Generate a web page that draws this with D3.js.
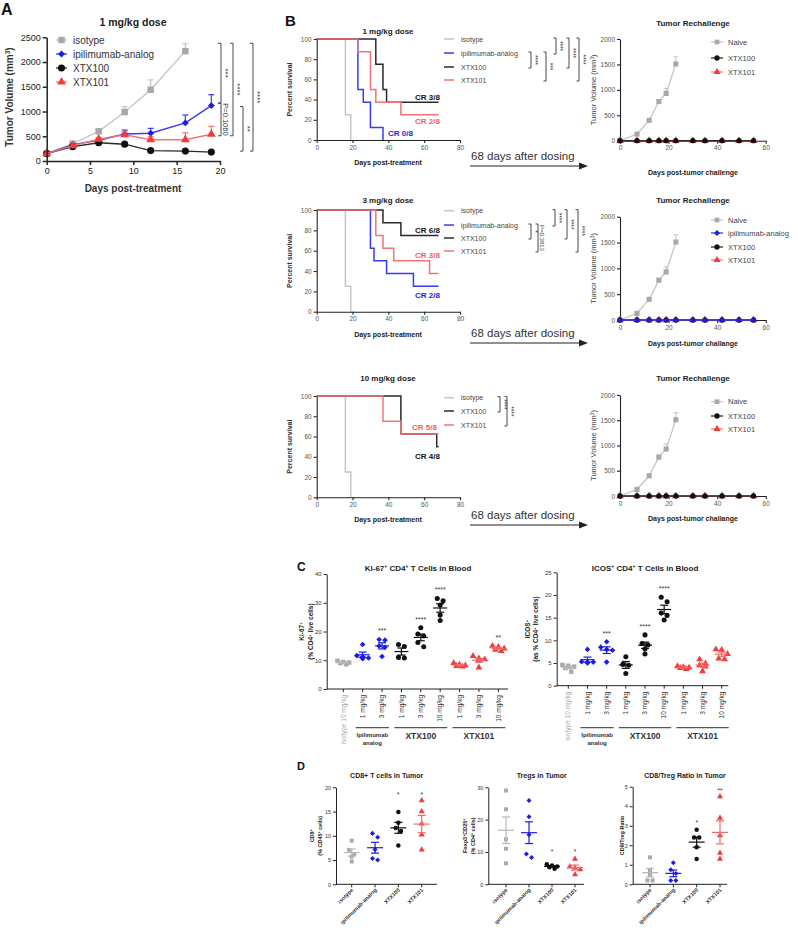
<!DOCTYPE html>
<html><head><meta charset="utf-8">
<script src="https://cdn.jsdelivr.net/npm/d3@7"></script>
<style>body{margin:0;background:#fff} svg{display:block}</style>
</head><body><script>
// ================= DATA =================
// Panel A : tumor volume, 1 mg/kg
const daysA=[0,3,6,9,12,16,19];
const xTicksA=[0,5,10,15,20];
const yTicksA=[0,500,1000,1500,2000,2500];
const isoA=[150,350,600,990,1440,2220,null];
const isoAerr=[15,25,35,110,200,150,null];
const ipiA=[150,330,420,545,560,770,1120];
const ipiAerr=[15,25,35,80,100,160,220];
const x100A=[150,290,370,340,210,200,180];
const x100Aerr=[15,20,25,25,20,20,25];
const x101A=[150,310,440,530,430,430,540];
const x101Aerr=[15,25,35,60,60,140,160];

// Panel B : survival (change points: day, percent)
const survXTicks=[0,20,40,60,80];
const survYTicks=[0,20,40,60,80,100];
const s1IsoT=[0,16,19], s1IsoP=[100,25,0];
const s1IpiT=[0,23,26,30,37], s1IpiP=[100,50,37.5,12.5,0];
const s1X100T=[0,33,37,39,68], s1X100P=[100,75,50,37.5,37.5];
const s1X101T=[0,23,30,33,47,68], s1X101P=[100,87.5,50,37.5,25,25];
const s3IsoT=[0,16,19], s3IsoP=[100,25,0];
const s3IpiT=[0,30,32,39,54,68], s3IpiP=[100,62.5,50,37.5,25,25];
const s3X100T=[0,37,47,68], s3X100P=[100,87.5,75,75];
const s3X101T=[0,33,37,43,63,68], s3X101P=[100,75,62.5,50,37.5,37.5];
const s10IsoT=[0,16,19], s10IsoP=[100,25,0];
const s10X100T=[0,47,67,68], s10X100P=[100,62.5,50,50];
const s10X101T=[0,37,47,68], s10X101P=[100,75,62.5,62.5];

// Panel B : tumor rechallenge
const rcXTicks=[0,20,40,60];
const rcYTicks=[0,500,1000,1500,2000];
const naiveDays=[0,7,12,16,19,23];
const naiveVol=[0,130,400,770,930,1510];
const naiveErr=[0,15,25,40,100,140];
const treatedDays=[0,7,12,16,19,23,30,35,42,49,55];
const treatedVol=[0,0,0,0,0,0,0,0,0,0,0];

// Panel C : blood
const cCats=["isotype 10 mg/kg","1 mg/kg","3 mg/kg","1 mg/kg","3 mg/kg","10 mg/kg","1 mg/kg","3 mg/kg","10 mg/kg"];
const cGroups=["iso","ipi","ipi","x100","x100","x100","x101","x101","x101"];
const ki67=[[8.6,9.0,9.4,9.8,9.2],[15.5,11.2,10.5,10.8,11.6],[17.2,17.0,15.0,14.5,11.3],[15.5,14.8,10.8,11.0],[21.3,19.1,18.4,16.2,14.7],[31.5,30.7,29.2,25.7,23.8],[9.0,8.5,8.2,8.0,7.8],[11.5,10.6,10.3,10.0,7.5],[15.0,14.6,14.1,13.6,13.2]];
const ki67Sig=["","","***","","****","****","","","**"];
const ki67Ticks=[0,10,20,30,40];
const icos=[[4.6,4.4,4.2,3.9,3.1],[8.0,5.2,5.0,5.3,5.2],[9.7,8.5,8.0,7.8,5.2],[6.4,4.7,4.5,2.7],[11.2,9.3,9.0,8.1,7.0],[19.5,18.5,16.0,15.5,14.5],[4.3,4.1,4.0,3.9,3.7],[5.8,4.9,4.5,4.2,3.2],[8.0,7.9,7.0,6.0,5.8]];
const icosSig=["","","***","","****","****","","",""];
const icosTicks=[0,5,10,15,20,25];

// Panel D : tumor
const dCats=["isotype","ipilimumab-analog","XTX100","XTX101"];
const dGroups=["iso","ipi","x100","x101"];
const cd8=[[9.0,7.1,6.2,5.7,4.7],[10.5,9.7,7.2,5.3,5.0],[14.9,12.7,11.6,11.0,8.0],[17.3,15.0,12.5,10.2,7.1]];
const cd8SigLbl=["","","*","*"], cd8SigY=[0,0,18.8,18.8];
const cd8Ticks=[0,5,10,15,20];
const tregs=[[29,23.2,13.9,11,6.5],[25.9,20.9,15.3,9.4,8.3],[6.2,5.8,5.5,5.3,4.8],[7.8,5.4,5.1,4.6,3.0]];
const tregSigLbl=["","","*","*"], tregSigY=[0,0,10.4,10.4];
const tregTicks=[0,10,20,30];
const ratio=[[1.38,0.73,0.48,0.2,0.2],[1.1,0.75,0.55,0.2,0.2],[2.8,2.4,2.4,1.9,1.3],[4.5,3.4,2.5,1.6,1.3]];
const ratioSigLbl=["","","*","**"], ratioSigY=[0,0,3.2,4.87];
const ratioTicks=[0,1,2,3,4,5];

// ================= HELPERS =================
const F='"Liberation Sans", Arial, Helvetica, sans-serif';
const fmt=d3.format("d");
const svg=d3.select("body").append("svg").attr("width",798).attr("height",932).style("font-family",F);
svg.append("rect").attr("width",798).attr("height",932).attr("fill","#fff");
const DIAM=d3.symbolDiamond2||d3.symbolDiamond;
const COL={
 iso:{line:"#c6c6c6",mark:"#a8a8a8",sym:d3.symbolSquare,name:"isotype"},
 naive:{line:"#c6c6c6",mark:"#a8a8a8",sym:d3.symbolSquare,name:"Naive"},
 ipi:{line:"#3a3af2",mark:"#1c1ce6",sym:DIAM,name:"ipilimumab-analog"},
 x100:{line:"#2a2a2a",mark:"#111",sym:d3.symbolCircle,name:"XTX100"},
 x101:{line:"#f37474",mark:"#f03c3c",sym:d3.symbolTriangle,name:"XTX101"}};

function rich(t,s){
  const re=/\^\{([^}]*)\}/g; let last=0,m;
  while((m=re.exec(s))){
    if(m.index>last) t.append("tspan").text(s.slice(last,m.index));
    t.append("tspan").attr("baseline-shift","super").attr("font-size","65%").text(m[1]);
    last=re.lastIndex;
  }
  if(last<s.length) t.append("tspan").text(s.slice(last));
}
function txt(x,y,s,o={}){
  const t=svg.append("text").attr("x",x).attr("y",y).attr("font-size",o.fs||8)
    .attr("fill",o.fill||"#222").attr("font-weight",o.bold?"bold":"normal")
    .attr("text-anchor",o.anchor||"start");
  if(o.rot!=null) t.attr("transform",`rotate(${o.rot},${x},${y})`);
  rich(t,s); return t;
}
function ln(x1,y1,x2,y2,c,w){svg.append("line").attr("x1",x1).attr("y1",y1).attr("x2",x2).attr("y2",y2).attr("stroke",c).attr("stroke-width",w);}
function mark(x,y,k,size,fill){
  svg.append("path").attr("d",d3.symbol().type(COL[k].sym).size(size)()).attr("transform",`translate(${x},${y})`).attr("fill",fill||COL[k].mark);
}
function styleAxis(g,fs,sw,col){
  g.select(".domain").attr("stroke","#222").attr("stroke-width",sw);
  g.selectAll(".tick line").attr("stroke","#222").attr("stroke-width",sw);
  g.selectAll(".tick text").attr("font-size",fs).attr("fill",col||"#222").attr("font-family",F);
}
function bracket(x,y1,y2,label,fs,tick){
  tick=tick||3;
  svg.append("path").attr("d",`M${x-tick},${y1}H${x}V${y2}H${x-tick}`).attr("fill","none").attr("stroke","#333").attr("stroke-width",0.9);
  txt(x+2,(y1+y2)/2,label,{fs:fs,anchor:"middle",rot:90,fill:"#333"});
}

// ================= PANEL LABELS =================
txt(1,15,"A",{fs:16,bold:true,fill:"#111"});
txt(285,26,"B",{fs:15,bold:true,fill:"#111"});
txt(297,571,"C",{fs:12,bold:true,fill:"#111"});
txt(297,770,"D",{fs:11,bold:true,fill:"#111"});

// ================= PANEL A =================
(function(){
  const x=d3.scaleLinear().domain([0,20]).range([46.7,220]);
  const y=d3.scaleLinear().domain([0,2500]).range([161,37.3]);
  const series=[{k:"iso",v:isoA,e:isoAerr,sz:42},{k:"ipi",v:ipiA,e:ipiAerr,sz:30},{k:"x100",v:x100A,e:x100Aerr,sz:40},{k:"x101",v:x101A,e:x101Aerr,sz:34}];
  series.forEach(s=>{
    const pts=daysA.map((d,i)=>({d,v:s.v[i],e:s.e[i]})).filter(p=>p.v!=null);
    pts.forEach(p=>{ if(p.e>30){ ln(x(p.d),y(p.v),x(p.d),y(p.v+p.e),COL[s.k].line,1.2); ln(x(p.d)-3,y(p.v+p.e),x(p.d)+3,y(p.v+p.e),COL[s.k].line,1.2);} });
    svg.append("path").attr("d",d3.line().x(p=>x(p.d)).y(p=>y(p.v))(pts)).attr("fill","none").attr("stroke",COL[s.k].line).attr("stroke-width",1.4);
    pts.forEach(p=>mark(x(p.d),y(p.v),s.k,s.sz));
  });
  const gx=svg.append("g").attr("transform","translate(0,161)").call(d3.axisBottom(x).tickValues(xTicksA).tickFormat(fmt).tickSize(4).tickPadding(3).tickSizeOuter(0));
  styleAxis(gx,9,1.5);
  const gy=svg.append("g").attr("transform","translate(46.7,0)").call(d3.axisLeft(y).tickValues(yTicksA).tickFormat(fmt).tickSize(4).tickPadding(2).tickSizeOuter(0));
  styleAxis(gy,9,1.5);
  txt(133,26,"1 mg/kg dose",{fs:10.5,bold:true,anchor:"middle"});
  txt(133,192,"Days post-treatment",{fs:10,bold:true,anchor:"middle",fill:"#333"});
  txt(13,97,"Tumor Volume (mm^{3})",{fs:10,bold:true,anchor:"middle",rot:-90,fill:"#333"});
  const ly=[40,54,68,82];
  series.forEach((s,i)=>{
    ln(56,ly[i],67,ly[i],COL[s.k].line,1.3); mark(61.5,ly[i],s.k,s.sz);
    txt(73,ly[i]+3.5,COL[s.k].name,{fs:10,fill:"#333"});
  });
  const sig=[{x:221,a:2380,b:1170,l:"***"},{x:221,a:1170,b:510,l:"P=0.1060"},{x:233,a:2380,b:510,l:"****"},{x:243,a:1100,b:200,l:"**"},{x:253,a:2380,b:200,l:"****"}];
  sig.forEach(s=>bracket(s.x,y(s.a),y(s.b),s.l,s.l.length>4?7.5:8));
})();

// ================= PANEL B : survival =================
function survChart(o){
  const x=d3.scaleLinear().domain([0,80]).range([316.7,460]);
  const y=d3.scaleLinear().domain([0,100]).range([o.y0,o.y100]);
  o.curves.forEach(c=>{
    const pts=c.t.map((t,i)=>[t,c.p[i]]);
    svg.append("path").attr("d",d3.line().x(d=>x(d[0])).y(d=>y(d[1])).curve(d3.curveStepAfter)(pts))
      .attr("fill","none").attr("stroke",COL[c.k].line).attr("stroke-width",1.5);
  });
  const gx=svg.append("g").attr("transform",`translate(0,${o.y0})`).call(d3.axisBottom(x).tickValues(survXTicks).tickFormat(fmt).tickSize(3).tickPadding(2).tickSizeOuter(0));
  styleAxis(gx,6.5,1.1,"#555");
  const gy=svg.append("g").attr("transform","translate(316.7,0)").call(d3.axisLeft(y).tickValues(survYTicks).tickFormat(fmt).tickSize(3).tickPadding(2).tickSizeOuter(0));
  styleAxis(gy,6.5,1.1,"#555");
  txt(388,o.titleY,o.title,{fs:8,bold:true,anchor:"middle"});
  txt(388,o.y0+25,"Days post-treatment",{fs:7,bold:true,anchor:"middle"});
  txt(292,(o.y0+o.y100)/2,"Percent survival",{fs:7,bold:true,anchor:"middle",rot:-90,fill:"#333"});
  o.legend.forEach((k,i)=>{ ln(444,o.ly[i],454,o.ly[i],COL[k].line,1.5); txt(461,o.ly[i]+2.5,COL[k].name,{fs:7,fill:"#444"}); });
  o.cr.forEach(c=>txt(c.x,c.y,c.t,{fs:8,bold:true,anchor:c.a,fill:c.k==="x101"?"#f06060":COL[c.k].mark}));
  o.sig.forEach(s=>bracket(s.x,o.ly[s.a]-1,o.ly[s.b]+1,s.l,s.l.length>4?6:6.5,2.5));
}
survChart({y0:140,y100:39,title:"1 mg/kg dose",titleY:34,
  curves:[{k:"iso",t:s1IsoT,p:s1IsoP},{k:"ipi",t:s1IpiT,p:s1IpiP},{k:"x100",t:s1X100T,p:s1X100P},{k:"x101",t:s1X101T,p:s1X101P}],
  legend:["iso","ipi","x100","x101"],ly:[39,53,67,80],
  cr:[{t:"CR 3/8",k:"x100",x:440,y:100,a:"end"},{t:"CR 2/8",k:"x101",x:440,y:124,a:"end"},{t:"CR 0/8",k:"ipi",x:388,y:136,a:"start"}],
  sig:[{x:531,a:1,b:2,l:"****"},{x:546,a:1,b:3,l:"***"},{x:556,a:0,b:1,l:"****"},{x:569,a:0,b:2,l:"****"},{x:579,a:0,b:3,l:"****"}]});
survChart({y0:311.7,y100:210,title:"3 mg/kg dose",titleY:203,
  curves:[{k:"iso",t:s3IsoT,p:s3IsoP},{k:"ipi",t:s3IpiT,p:s3IpiP},{k:"x100",t:s3X100T,p:s3X100P},{k:"x101",t:s3X101T,p:s3X101P}],
  legend:["iso","ipi","x100","x101"],ly:[210.7,225,238,251],
  cr:[{t:"CR 6/8",k:"x100",x:440,y:233,a:"end"},{t:"CR 3/8",k:"x101",x:440,y:258,a:"end"},{t:"CR 2/8",k:"ipi",x:440,y:298,a:"end"}],
  sig:[{x:531,a:1,b:2,l:"*"},{x:538,a:1,b:3,l:"P=0.3813"},{x:555,a:0,b:1,l:"****"},{x:567,a:0,b:2,l:"****"},{x:578,a:0,b:3,l:"****"}]});
survChart({y0:497.3,y100:396,title:"10 mg/kg dose",titleY:381,
  curves:[{k:"iso",t:s10IsoT,p:s10IsoP},{k:"x100",t:s10X100T,p:s10X100P},{k:"x101",t:s10X101T,p:s10X101P}],
  legend:["iso","x100","x101"],ly:[397.7,411,425],
  cr:[{t:"CR 5/8",k:"x101",x:437,y:430,a:"end"},{t:"CR 4/8",k:"x100",x:440,y:459,a:"end"}],
  sig:[{x:500,a:0,b:1,l:"****"},{x:507,a:0,b:2,l:"****"}]});

// ================= PANEL B : rechallenge =================
function rcChart(o){
  const x=d3.scaleLinear().domain([0,60]).range([620,765.7]);
  const y=d3.scaleLinear().domain([0,2000]).range([o.y0,o.y2000]);
  naiveDays.forEach((d,i)=>{ if(naiveErr[i]>30){ ln(x(d),y(naiveVol[i]),x(d),y(naiveVol[i]+naiveErr[i]),COL.naive.line,1); ln(x(d)-2.5,y(naiveVol[i]+naiveErr[i]),x(d)+2.5,y(naiveVol[i]+naiveErr[i]),COL.naive.line,1);} });
  svg.append("path").attr("d",d3.line().x((d,i)=>x(naiveDays[i])).y((d,i)=>y(naiveVol[i]))(naiveDays)).attr("fill","none").attr("stroke",COL.naive.line).attr("stroke-width",1.3);
  naiveDays.forEach((d,i)=>mark(x(d),y(naiveVol[i]),"naive",26));
  const gx=svg.append("g").attr("transform",`translate(0,${o.y0})`).call(d3.axisBottom(x).tickValues(rcXTicks).tickFormat(fmt).tickSize(3).tickPadding(2).tickSizeOuter(0));
  styleAxis(gx,6.5,1.1,"#555");
  const gy=svg.append("g").attr("transform","translate(620,0)").call(d3.axisLeft(y).tickValues(rcYTicks).tickFormat(fmt).tickSize(3).tickPadding(2).tickSizeOuter(0));
  styleAxis(gy,6.5,1.1,"#555");
  o.treated.forEach(k=>{
    svg.append("path").attr("d",d3.line().x((d,i)=>x(treatedDays[i])).y((d,i)=>y(treatedVol[i]))(treatedDays)).attr("fill","none").attr("stroke",COL[k].line).attr("stroke-width",1.4);
    treatedDays.forEach((d,i)=>mark(x(d),y(treatedVol[i]),k,k==="x101"?26:22));
  });
  txt(693,o.titleY,"Tumor Rechallenge",{fs:8,bold:true,anchor:"middle"});
  txt(693,o.xlY,o.xl,{fs:7,bold:true,anchor:"middle"});
  txt(596,(o.y0+o.y2000)/2,"Tumor Volume (mm^{3})",{fs:7.5,anchor:"middle",rot:-90,fill:"#444"});
  o.legend.forEach((k,i)=>{ ln(711,o.ly[i],723,o.ly[i],COL[k].line,1.3); mark(717,o.ly[i],k,22); txt(728,o.ly[i]+2.7,COL[k].name,{fs:7.5,fill:"#444"}); });
}
rcChart({y0:140.7,y2000:39,titleY:26,xlY:175,xl:"Days post-tumor challenge",treated:["x101","x100"],legend:["naive","x100","x101"],ly:[42,58,72]});
rcChart({y0:320,y2000:216.7,titleY:203,xlY:346,xl:"Days post-tumor challange",treated:["x101","x100","ipi"],legend:["naive","ipi","x100","x101"],ly:[220,233,247,260]});
rcChart({y0:496,y2000:395,titleY:381,xlY:521,xl:"Days post-tumor challange",treated:["x101","x100"],legend:["naive","x100","x101"],ly:[401.7,416,429]});

// arrows
function arrow(y){
  txt(471,y-6,"68 days after dosing",{fs:11.5,fill:"#333"});
  ln(470,y,580,y,"#222",1.2);
  svg.append("path").attr("d",`M588,${y}L579,${y-3.5}L579,${y+3.5}Z`).attr("fill","#222");
}
arrow(166); arrow(343); arrow(525);

// ================= DOT PLOTS =================
function dotPlot(o){
  const x=d3.scalePoint().domain(d3.range(o.data.length)).range(o.xr);
  const y=d3.scaleLinear().domain([0,o.ymax]).range([o.y0,o.ytop]);
  const gy=svg.append("g").attr("transform",`translate(${o.axL},0)`).call(d3.axisLeft(y).tickValues(o.yt).tickFormat(fmt).tickSize(3).tickPadding(2).tickSizeOuter(0));
  styleAxis(gy,o.tfs,1,"#333");
  ln(o.axL,o.y0,o.axR,o.y0,"#222",1);
  o.data.forEach((vals,i)=>{
    const cx=x(i), k=o.groups[i];
    ln(cx,o.y0,cx,o.y0+3,"#222",1);
    // points, spread horizontally when they overlap (max 3 per row)
    const pts=vals.map(v=>({v,py:y(v)})).sort((a,b)=>a.py-b.py);
    const rows=[]; pts.forEach(p=>{ const r=rows[rows.length-1]; if(r&&p.py-r[0].py<o.ms*1.1&&r.length<3) r.push(p); else rows.push([p]); });
    rows.forEach(r=>r.forEach((p,j)=>{p.px=cx+(j-(r.length-1)/2)*o.ms*1.3;}));
    const mean=d3.mean(vals), sem=d3.deviation(vals)/Math.sqrt(vals.length);
    const lc=k==="iso"?"#b8b8b8":(k==="x101"?"#f06a6a":COL[k].mark);
    pts.forEach(p=>mark(p.px,p.py,k,o.msz,k==="iso"?"#aaaaaa":COL[k].mark));
    ln(cx-o.mw,y(mean),cx+o.mw,y(mean),lc,1.2);
    ln(cx,y(mean-sem),cx,y(mean+sem),lc,1.2);
    ln(cx-o.cw,y(mean+sem),cx+o.cw,y(mean+sem),lc,1.2);
    ln(cx-o.cw,y(mean-sem),cx+o.cw,y(mean-sem),lc,1.2);
    const lab=o.sig[i]; if(lab){ const sy=o.sigY?y(o.sigY[i]):y(d3.max(vals))-10; txt(cx,sy+o.sfs*0.55,lab,{fs:o.sfs,anchor:"middle",fill:"#333"}); }
    if(o.rot===-90) txt(cx+2.2,o.y0+6,o.cats[i],{fs:o.cfs,anchor:"end",rot:-90,fill:k==="iso"?"#aaa":"#333"});
    else txt(cx+2,o.y0+6,o.cats[i],{fs:o.cfs,anchor:"end",rot:-45,bold:true,fill:"#333"});
  });
  txt(o.tx,o.ty,o.title,{fs:o.tfs2,bold:true,anchor:"middle"});
  o.ylab.forEach((s,j)=>txt(o.ylx[j],(o.y0+o.ytop)/2,s,{fs:o.yfs,bold:true,anchor:"middle",rot:-90}));
  if(o.grp){
    o.grp.forEach(g=>{
      const x1=x(g.a)-7,x2=x(g.b)+7;
      ln(x1,o.gy,x2,o.gy,"#555",1.3);
      g.l.forEach((s,j)=>txt((x1+x2)/2,o.gy+g.dy+j*8,s,{fs:g.fs,bold:true,anchor:"middle",fill:"#333"}));
    });
  }
}
const grpC=[{a:1,b:2,l:["Ipilimumab","analog"],fs:6,dy:9},{a:3,b:5,l:["XTX100"],fs:8.5,dy:11},{a:6,b:8,l:["XTX101"],fs:8.5,dy:11}];
dotPlot({data:ki67,groups:cGroups,cats:cCats,sig:ki67Sig,xr:[343.3,498.3],axL:326.7,axR:508,y0:689,ytop:574,ymax:40,yt:ki67Ticks,
  tfs:6,ms:4.5,msz:20,mw:7,cw:4,sfs:7,cfs:6.5,rot:-90,title:"Ki-67^{+} CD4^{+} T Cells in Blood",tx:418,ty:571,tfs2:8,
  ylab:["Ki-67^{+}","(% CD4^{+} live cells)"],ylx:[304,312.5],yfs:6.5,grp:grpC,gy:727.7});
dotPlot({data:icos,groups:cGroups,cats:cCats,sig:icosSig,xr:[568.3,721.7],axL:556.7,axR:728.3,y0:685.7,ytop:572.3,ymax:25,yt:icosTicks,
  tfs:6,ms:4.5,msz:20,mw:7,cw:4,sfs:7,cfs:6.5,rot:-90,title:"ICOS^{+} CD4^{+} T Cells in Blood",tx:645,ty:570.5,tfs2:8,
  ylab:["ICOS^{+}","(as % CD4^{+} live cells)"],ylx:[529.5,538],yfs:6.5,grp:grpC,gy:727.7});
dotPlot({data:cd8,groups:dGroups,cats:dCats,sig:cd8SigLbl,sigY:cd8SigY,xr:[351.7,421.7],axL:336,axR:437,y0:884.3,ytop:787.3,ymax:20,yt:cd8Ticks,
  tfs:5.5,ms:4,msz:16,mw:8,cw:4,sfs:6.5,cfs:5.5,rot:-45,title:"CD8+ T cells in Tumor",tx:386.7,ty:777.5,tfs2:7,
  ylab:["CD8^{+}","(% CD45^{+} cells)"],ylx:[314,322],yfs:5.5});
dotPlot({data:tregs,groups:dGroups,cats:dCats,sig:tregSigLbl,sigY:tregSigY,xr:[506,575],axL:488.3,axR:584,y0:884.3,ytop:787.3,ymax:30,yt:tregTicks,
  tfs:5.5,ms:4,msz:16,mw:8,cw:4,sfs:6.5,cfs:5.5,rot:-45,title:"Tregs in Tumor",tx:541.7,ty:777.5,tfs2:7,
  ylab:["Foxp3^{+}CD25^{+}","(% CD4^{+} cells)"],ylx:[467,475.5],yfs:5.5});
dotPlot({data:ratio,groups:dGroups,cats:dCats,sig:ratioSigLbl,sigY:ratioSigY,xr:[650,720],axL:632.7,axR:727,y0:884.3,ytop:786.7,ymax:5,yt:ratioTicks,
  tfs:5.5,ms:4,msz:16,mw:8,cw:4,sfs:6.5,cfs:5.5,rot:-45,title:"CD8/Treg Ratio in Tumor",tx:685,ty:777.5,tfs2:7,
  ylab:["CD8/Treg Ratio"],ylx:[623.5],yfs:5.5});
</script></body></html>
